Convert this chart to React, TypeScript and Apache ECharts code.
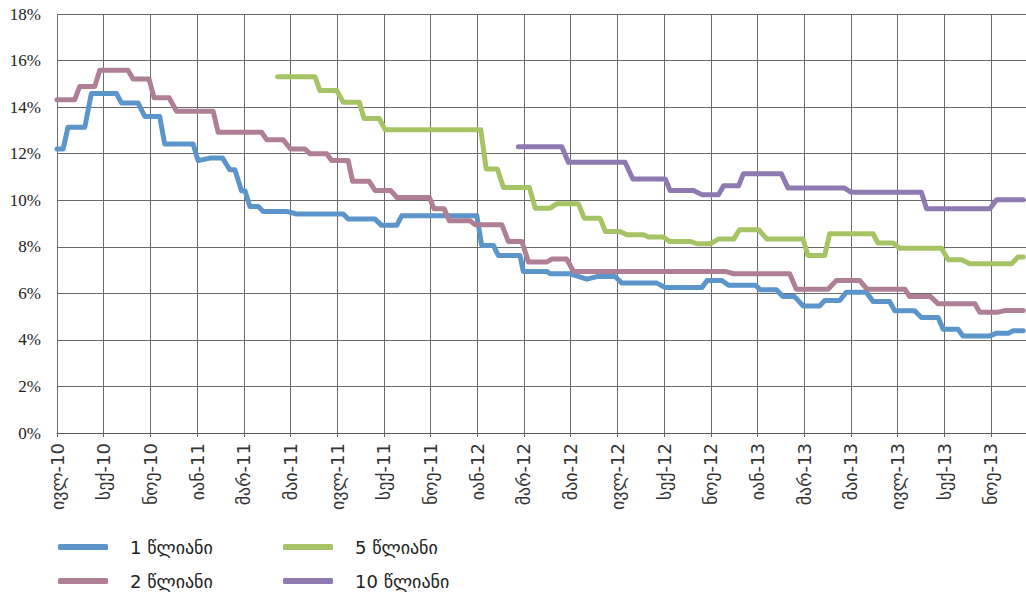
import React, { useEffect, useRef } from "react";
import * as echarts from "echarts";

// x = months since July 2010, y = yield in %
const monthLabels = [
  "ივლ-10", "სექ-10", "ნოე-10", "იან-11", "მარ-11", "მაი-11", "ივლ-11",
  "სექ-11", "ნოე-11", "იან-12", "მარ-12", "მაი-12", "ივლ-12", "სექ-12",
  "ნოე-12", "იან-13", "მარ-13", "მაი-13", "ივლ-13", "სექ-13", "ნოე-13",
];

const seriesNames = ["1 წლიანი", "2 წლიანი", "5 წლიანი", "10 წლიანი"];

const yield1y = [
  [0, 12.2], [0.26, 12.2], [0.47, 13.13], [1.19, 13.13], [1.47, 14.58], [2.55, 14.58],
  [2.76, 14.18], [3.47, 14.18], [3.76, 13.6], [4.4, 13.6], [4.61, 12.42], [5.83, 12.42],
  [6.04, 11.7], [6.55, 11.81], [7.09, 11.81], [7.4, 11.31], [7.62, 11.31], [7.9, 10.41],
  [8.05, 10.41], [8.26, 9.73], [8.62, 9.73], [8.83, 9.52], [9.83, 9.52], [10.26, 9.41],
  [12.26, 9.41], [12.47, 9.19], [13.62, 9.19], [13.9, 8.92], [14.55, 8.92], [14.76, 9.33],
  [17.98, 9.33], [18.19, 8.06], [18.69, 8.06], [18.9, 7.63], [19.83, 7.63], [19.97, 6.94],
  [20.98, 6.94], [21.12, 6.84], [21.98, 6.84], [22.69, 6.61], [23.12, 6.72], [23.9, 6.72],
  [24.19, 6.44], [25.69, 6.44], [26.05, 6.25], [27.62, 6.25], [27.84, 6.55], [28.48, 6.55],
  [28.76, 6.35], [29.91, 6.35], [30.12, 6.15], [30.81, 6.15], [31.09, 5.86], [31.59, 5.86],
  [31.95, 5.46], [32.66, 5.46], [32.88, 5.69], [33.52, 5.69], [33.81, 6.05], [34.66, 6.05],
  [34.95, 5.65], [35.66, 5.65], [35.88, 5.25], [36.73, 5.25], [37.02, 4.96], [37.74, 4.96],
  [37.95, 4.46], [38.59, 4.46], [38.8, 4.17], [39.95, 4.17], [40.24, 4.29], [40.74, 4.29],
  [40.95, 4.39], [41.38, 4.39],
];

const yield2y = [
  [0, 14.32], [0.76, 14.32], [0.97, 14.89], [1.62, 14.89], [1.83, 15.58], [3.04, 15.58],
  [3.26, 15.21], [3.94, 15.21], [4.16, 14.4], [4.8, 14.4], [5.12, 13.82], [6.69, 13.82],
  [6.9, 12.92], [8.76, 12.92], [8.98, 12.6], [9.69, 12.6], [10.0, 12.2], [10.62, 12.2],
  [10.83, 12.0], [11.55, 12.0], [11.76, 11.71], [12.47, 11.71], [12.66, 10.81], [13.37, 10.81],
  [13.62, 10.42], [14.29, 10.42], [14.55, 10.12], [15.95, 10.12], [16.15, 9.63], [16.58, 9.63],
  [16.8, 9.12], [17.69, 9.12], [17.9, 8.95], [19.05, 8.95], [19.33, 8.23], [19.91, 8.23],
  [20.19, 7.35], [20.98, 7.35], [21.19, 7.47], [21.83, 7.47], [22.12, 6.94], [28.62, 6.94],
  [28.98, 6.84], [31.38, 6.84], [31.66, 6.18], [33.02, 6.18], [33.38, 6.55], [34.38, 6.55],
  [34.69, 6.18], [36.31, 6.18], [36.52, 5.86], [37.41, 5.86], [37.74, 5.55], [39.31, 5.55],
  [39.52, 5.19], [40.31, 5.19], [40.59, 5.26], [41.38, 5.26],
];

const yield5y = [
  [9.45, 15.3], [11.05, 15.3], [11.26, 14.71], [11.98, 14.71], [12.26, 14.21], [12.95, 14.21],
  [13.15, 13.51], [13.8, 13.51], [14.05, 13.03], [18.15, 13.03], [18.38, 11.34], [18.86, 11.34],
  [19.12, 10.55], [20.23, 10.55], [20.48, 9.66], [21.12, 9.66], [21.41, 9.85], [22.33, 9.85],
  [22.58, 9.23], [23.26, 9.23], [23.48, 8.66], [24.09, 8.66], [24.41, 8.52], [25.12, 8.52],
  [25.33, 8.42], [25.97, 8.42], [26.23, 8.23], [27.12, 8.23], [27.41, 8.13], [27.98, 8.13],
  [28.33, 8.33], [28.98, 8.33], [29.23, 8.73], [30.05, 8.73], [30.41, 8.33], [31.95, 8.33],
  [32.16, 7.63], [32.88, 7.63], [33.09, 8.56], [34.95, 8.56], [35.16, 8.16], [35.81, 8.16],
  [36.09, 7.94], [37.88, 7.94], [38.17, 7.44], [38.74, 7.44], [39.09, 7.27], [40.88, 7.27],
  [41.16, 7.56], [41.38, 7.56],
];

const yield10y = [
  [19.76, 12.3], [21.62, 12.3], [21.9, 11.63], [24.33, 11.63], [24.66, 10.91], [26.05, 10.91],
  [26.26, 10.42], [27.26, 10.42], [27.62, 10.24], [28.33, 10.24], [28.55, 10.62], [29.19, 10.62],
  [29.4, 11.14], [31.02, 11.14], [31.31, 10.52], [33.73, 10.52], [34.02, 10.34], [37.02, 10.34],
  [37.24, 9.63], [39.95, 9.63], [40.24, 10.02], [41.38, 10.02],
];

const seriesData = [yield1y, yield2y, yield5y, yield10y];
const colors = ["#5B95CA", "#AE7F95", "#A6C465", "#8F79B1"];

export default function App() {
  const ref = useRef<HTMLDivElement>(null);
  useEffect(() => {
    if (!ref.current) return;
    const chart = echarts.init(ref.current, undefined, { renderer: "svg" });
    const legendPos = [
      { left: 58, top: 538 },
      { left: 58, top: 572 },
      { left: 283, top: 538 },
      { left: 283, top: 572 },
    ];
    chart.setOption({
      animation: false,
      grid: { left: 57, top: 14, right: 0, bottom: 164, containLabel: false },
      legend: seriesNames.map((n, i) => ({
        data: [n],
        left: legendPos[i].left,
        top: legendPos[i].top,
        padding: 0,
        icon: "roundRect",
        itemWidth: 50,
        itemHeight: 6,
        textStyle: {
          fontFamily: "DejaVu Sans",
          fontSize: 18,
          color: "#222",
          padding: [0, 0, 0, 17],
        },
      })),
      xAxis: {
        type: "value",
        min: 0,
        max: 41.5,
        interval: 2,
        axisLine: { show: true, lineStyle: { color: "#555", width: 1 } },
        axisTick: { show: true, length: 4, lineStyle: { color: "#666" } },
        splitLine: { show: true, lineStyle: { color: "#6a6a6a", width: 1 } },
        axisLabel: {
          rotate: 90,
          margin: 10,
          fontFamily: "DejaVu Sans",
          fontSize: 18,
          color: "#333",
          showMaxLabel: false,
          padding: [10, 0, 0, 0],
          formatter: (v: number) =>
            Number.isInteger(v) && v % 2 === 0 ? monthLabels[v / 2] ?? "" : "",
        },
      },
      yAxis: {
        type: "value",
        min: 0,
        max: 18,
        interval: 2,
        axisLine: { show: false },
        axisTick: { show: false },
        splitLine: { show: true, lineStyle: { color: "#6a6a6a", width: 1 } },
        axisLabel: {
          margin: 16,
          fontFamily: "Liberation Serif",
          fontSize: 17,
          color: "#222",
          formatter: "{value}%",
        },
      },
      series: seriesNames.map((n, i) => ({
        name: n,
        type: "line",
        data: seriesData[i],
        showSymbol: false,
        symbol: "none",
        color: colors[i],
        lineStyle: { width: 5, color: colors[i], cap: "round", join: "round" },
      })),
    });
    return () => chart.dispose();
  }, []);
  return (
    <div
      ref={ref}
      style={{ position: "absolute", left: 0, top: 0, width: 1026, height: 597 }}
    />
  );
}
